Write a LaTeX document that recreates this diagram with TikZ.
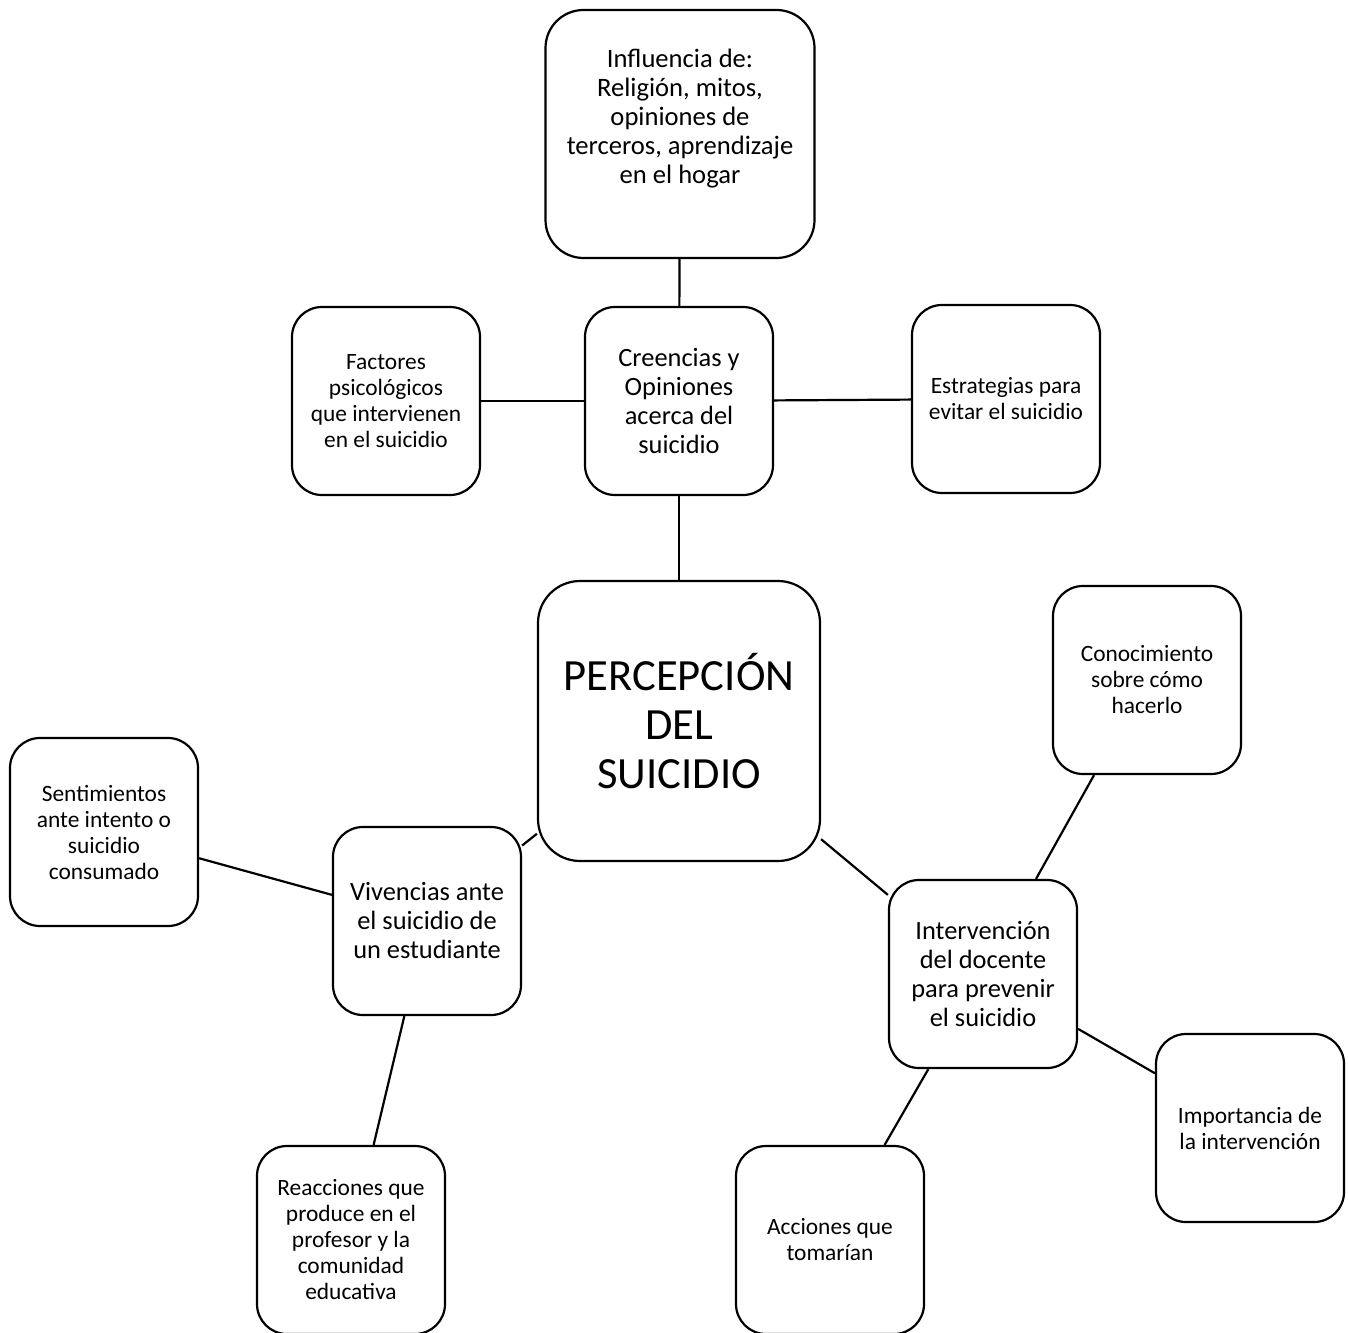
\documentclass[tikz,border=0pt]{standalone}
\usepackage{fontspec}
\setmainfont{Carlito}
\tikzset{
  idea/.style={draw, line width=1.1pt, rounded corners=15pt, align=center,
    minimum width=94pt, minimum height=94pt, inner sep=2pt,
    font=\fontsize{11.7}{13}\selectfont},
  theme/.style={idea, font=\fontsize{13.2}{14.5}\selectfont},
  core/.style={idea, rounded corners=21pt, minimum width=141pt, minimum height=140pt,
    font=\fontsize{22.3}{24.5}\selectfont},
  link/.style={line width=1.1pt}
}
\begin{document}
\begin{tikzpicture}[x=0.5pt,y=-0.5pt]
  \useasboundingbox (0,0) rectangle (1348,1332);
  % central idea
  \node[core] (perc) at (679,721) {PERCEPCIÓN\\DEL\\SUICIDIO};
  % beliefs branch
  \node[theme] (creen) at (679,401) {Creencias y\\Opiniones\\acerca del\\suicidio};
  \node[theme, rounded corners=19pt, minimum width=134.5pt, minimum height=124pt,
    inner ysep=0pt, text height=87pt, text depth=37pt,
    font=\fontsize{13.3}{14.5}\selectfont] (infl) at (680,134)
    {Influencia de:\\Religión, mitos,\\opiniones de\\terceros, aprendizaje\\en el hogar};
  \node[idea] (fact) at (386,401) {Factores\\psicológicos\\que intervienen\\en el suicidio};
  \node[idea] (estr) at (1006,399) {Estrategias para\\evitar el suicidio};
  % experiences branch
  \node[theme] (viv) at (427,921) {Vivencias ante\\el suicidio de\\un estudiante};
  \node[idea] (sent) at (104,832) {Sentimientos\\ante intento o\\suicidio\\consumado};
  \node[idea] (reac) at (351,1240) {Reacciones que\\produce en el\\profesor y la\\comunidad\\educativa};
  % intervention branch
  \node[theme] (interv) at (983,974) {Intervención\\del docente\\para prevenir\\el suicidio};
  \node[idea] (conoc) at (1147,680) {Conocimiento\\sobre cómo\\hacerlo};
  \node[idea] (imp) at (1250,1128) {Importancia de\\la intervención};
  \node[idea] (acc) at (830,1240) {Acciones que\\tomarían};
  % connectors
  \draw[link] (infl) -- (creen);
  \draw[link] (fact) -- (creen);
  \draw[link] (creen) -- (estr);
  \draw[link] (creen) -- (perc);
  \draw[link] (perc) -- (viv);
  \draw[link] (perc) -- (interv);
  \draw[link] (sent) -- (viv);
  \draw[link] (viv) -- (reac);
  \draw[link] (interv) -- (conoc);
  \draw[link] (interv) -- (imp);
  \draw[link] (interv) -- (acc);
\end{tikzpicture}
\end{document}
